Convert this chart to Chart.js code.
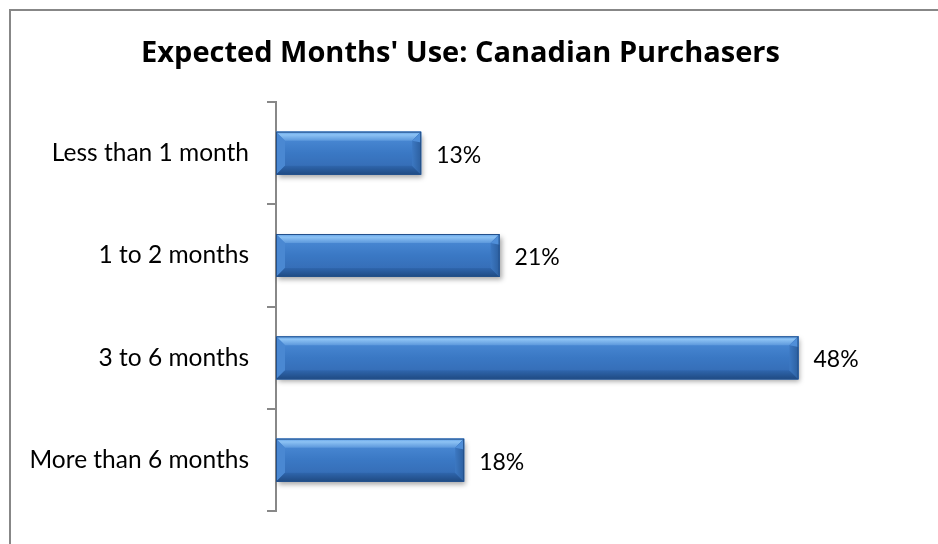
<!DOCTYPE html>
<html><head><meta charset="utf-8">
<script src="https://cdn.jsdelivr.net/npm/chart.js@4.4.1/dist/chart.umd.min.js"></script>
<style>html,body{margin:0;padding:0;background:#fff;overflow:hidden}#wrap{width:938px;height:544px;position:relative}</style>
</head><body><div id="wrap"><canvas id="c" width="938" height="544"></canvas></div>
<script>
const titleText = "Expected Months' Use: Canadian Purchasers";
const categories = ["Less than 1 month", "1 to 2 months", "3 to 6 months", "More than 6 months"];
const values = [13.5, 20.8, 48.6, 17.5];
const valueLabels = ["13%", "21%", "48%", "18%"];
const FONT = "Lato, 'Open Sans', sans-serif";
const TITLE_FONT = "'Open Sans', Lato, sans-serif";

const frame = {
  id: 'frame',
  beforeDraw(chart) {
    const c = chart.ctx;
    c.save();
    c.fillStyle = '#fff';
    c.fillRect(0, 0, chart.width, chart.height);
    c.strokeStyle = '#878787';
    c.lineWidth = 2;
    c.beginPath();
    c.moveTo(10, chart.height + 5);
    c.lineTo(10, 10);
    c.lineTo(chart.width + 5, 10);
    c.stroke();
    c.restore();
  }
};

function ok(v) { return Number.isFinite(v); }

const bevel = {
  id: 'bevel',
  beforeDatasetsDraw(chart) {
    const c = chart.ctx;
    const meta = chart.getDatasetMeta(0);
    c.save();
    meta.data.forEach(b => {
      if (!ok(b.x) || !ok(b.y) || !ok(b.height)) return;
      const h = b.height, top = b.y - h / 2, left = b.base, right = b.x;
      c.shadowColor = 'rgba(0,0,0,0.35)';
      c.shadowBlur = 5;
      c.shadowOffsetX = 2;
      c.shadowOffsetY = 3;
      c.fillStyle = '#3a76c2';
      c.fillRect(left, top, right - left, h);
    });
    c.restore();
  },
  afterDatasetsDraw(chart) {
    const c = chart.ctx;
    const meta = chart.getDatasetMeta(0);
    c.save();
    meta.data.forEach(b => {
      if (!ok(b.x) || !ok(b.y) || !ok(b.height)) return;
      const h = b.height, top = b.y - h / 2, bot = b.y + h / 2, left = b.base, right = b.x;
      const d = 9;
      let g = c.createLinearGradient(0, top, 0, bot);
      g.addColorStop(0, '#4f8fda');
      g.addColorStop(0.5, '#3a78c4');
      g.addColorStop(1, '#3368b0');
      c.fillStyle = g;
      c.fillRect(left, top, right - left, h);
      g = c.createLinearGradient(0, top, 0, top + d);
      g.addColorStop(0, '#5f9fe6');
      g.addColorStop(0.35, '#8cc2f4');
      g.addColorStop(1, '#5c98dc');
      c.fillStyle = g;
      c.beginPath();
      c.moveTo(left, top); c.lineTo(right, top); c.lineTo(right - d, top + d); c.lineTo(left + d, top + d); c.closePath(); c.fill();
      c.fillStyle = '#4a88d2';
      c.beginPath();
      c.moveTo(left, top); c.lineTo(left + d, top + d); c.lineTo(left + d, bot - d); c.lineTo(left, bot); c.closePath(); c.fill();
      g = c.createLinearGradient(0, bot - d, 0, bot);
      g.addColorStop(0, '#2f66ad');
      g.addColorStop(1, '#1f4a82');
      c.fillStyle = g;
      c.beginPath();
      c.moveTo(left, bot); c.lineTo(right, bot); c.lineTo(right - d, bot - d); c.lineTo(left + d, bot - d); c.closePath(); c.fill();
      g = c.createLinearGradient(right - d, 0, right, 0);
      g.addColorStop(0, '#3c78c2');
      g.addColorStop(1, '#2c5f9f');
      c.fillStyle = g;
      c.beginPath();
      c.moveTo(right, top); c.lineTo(right, bot); c.lineTo(right - d, bot - d); c.lineTo(right - d, top + d); c.closePath(); c.fill();
      c.fillStyle = '#4f8ed8';
      c.beginPath();
      c.moveTo(right, top); c.lineTo(right - d, top + d); c.lineTo(right, top + d * 1.2); c.closePath(); c.fill();
      c.strokeStyle = '#24508a';
      c.lineWidth = 1;
      c.strokeRect(left + 0.5, top + 0.5, right - left - 1, h - 1);
    });
    c.fillStyle = '#000';
    c.font = '23px ' + FONT;
    c.textBaseline = 'middle';
    c.textAlign = 'left';
    meta.data.forEach((b, i) => {
      if (!ok(b.x) || !ok(b.y)) return;
      c.fillText(valueLabels[i], b.x + 15, b.y + 2);
    });
    c.restore();
  }
};

new Chart(document.getElementById('c'), {
  type: 'bar',
  data: {
    labels: categories,
    datasets: [{
      data: values,
      backgroundColor: '#3a78c4',
      borderWidth: 0,
      categoryPercentage: 1,
      barPercentage: 0.42
    }]
  },
  options: {
    indexAxis: 'y',
    responsive: false,
    animation: false,
    devicePixelRatio: 1,
    layout: { padding: { left: 0, right: 17, top: 0, bottom: 25 } },
    plugins: {
      legend: { display: false },
      tooltip: { enabled: false },
      title: {
        display: true,
        text: titleText,
        color: '#000',
        font: { family: TITLE_FONT, size: 29, weight: 'bold', lineHeight: 1.2 },
        padding: { top: 36.6, bottom: 30.6 }
      }
    },
    scales: {
      x: { display: false, min: 0, max: 60 },
      y: {
        afterFit(scale) { scale.width = 276; },
        border: { display: true, color: '#888888', width: 2 },
        grid: { offset: true, drawOnChartArea: false, drawTicks: true, tickLength: 9, color: '#888888', lineWidth: 2 },
        ticks: { color: '#000', padding: 18, font: { family: FONT, size: 24.5 } }
      }
    }
  },
  plugins: [frame, bevel]
});
</script></body></html>
